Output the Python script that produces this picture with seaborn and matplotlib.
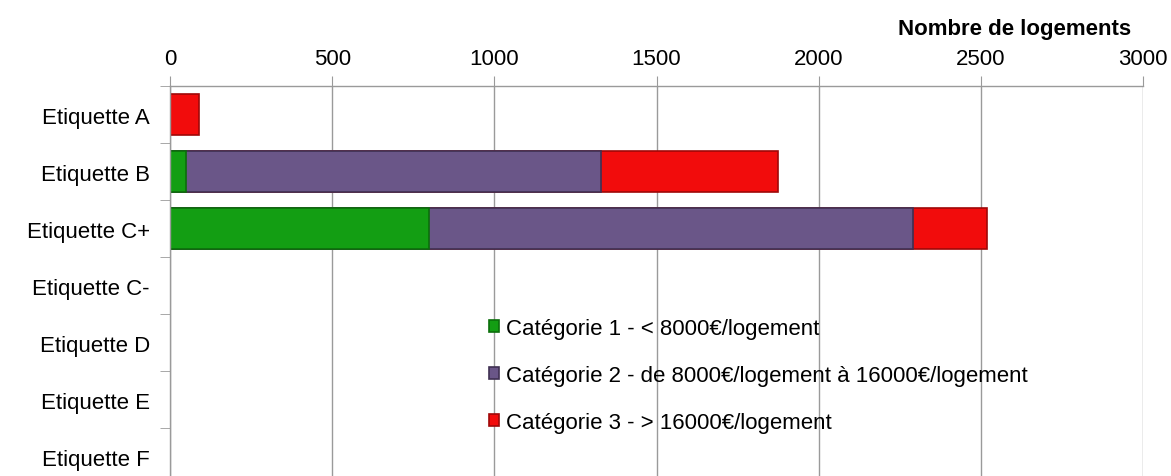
import matplotlib
matplotlib.use("Agg")
import matplotlib.pyplot as plt
import seaborn as sns
import numpy as np
import pandas as pd

categories = ["Etiquette A", "Etiquette B", "Etiquette C+", "Etiquette C-",
              "Etiquette D", "Etiquette E", "Etiquette F"]
cat1 = [0, 50, 800, 0, 0, 0, 0]
cat2 = [0, 1280, 1490, 0, 0, 0, 0]
cat3 = [90, 545, 230, 0, 0, 0, 0]
series_labels = ["Catégorie 1 - < 8000€/logement",
                 "Catégorie 2 - de 8000€/logement à 16000€/logement",
                 "Catégorie 3 - > 16000€/logement"]
colors = ["#139E13", "#6A5688", "#F20C0C"]
edges = ["#0B6E0B", "#3F3052", "#A00808"]
xticks = [0, 500, 1000, 1500, 2000, 2500, 3000]

sns.set_style("white")
plt.rcParams["font.family"] = ["Liberation Sans", "DejaVu Sans"]
plt.rcParams["text.color"] = "black"
plt.rcParams["xtick.labelcolor"] = "black"
plt.rcParams["ytick.labelcolor"] = "black"

df = pd.DataFrame({"cat": categories, "c1": cat1, "c2": cat2, "c3": cat3})
df["s1"] = df["c1"]
df["s2"] = df["c1"] + df["c2"]
df["s3"] = df["s2"] + df["c3"]

fig = plt.figure(figsize=(11.71, 4.77), dpi=100)
ax = fig.add_axes([170/1171, -0.0189, 973/1171, 0.8365])

for col, c, e, lab in [("s3", colors[2], edges[2], series_labels[2]),
                       ("s2", colors[1], edges[1], series_labels[1]),
                       ("s1", colors[0], edges[0], series_labels[0])]:
    sns.barplot(data=df, x=col, y="cat", color=c, orient="h", width=0.72,
                ax=ax, label=lab, edgecolor=e, linewidth=1.2, saturation=1)

ax.set_xlim(0, 3000)
ax.set_xticks(xticks)
ax.xaxis.tick_top()
ax.set_xlabel("")
ax.set_ylabel("")
ax.grid(axis="x", color="#9A9A9A", linewidth=1.0)
ax.set_axisbelow(True)
for s in ["right", "bottom"]:
    ax.spines[s].set_visible(False)
for s in ["top", "left"]:
    ax.spines[s].set_color("#9A9A9A")
    ax.spines[s].set_linewidth(1.0)
ax.tick_params(axis="x", which="major", top=True, length=7, color="#9A9A9A",
               labelsize=16, pad=5, direction="out", labelcolor="black")
ax.tick_params(axis="y", which="major", length=0, labelsize=16, pad=14.5,
               labelcolor="black")
ax.set_yticks(np.arange(-0.5, len(categories), 1.0), minor=True)
ax.tick_params(axis="y", which="minor", left=True, length=7, color="#9A9A9A", direction="out")

handles, labels = ax.get_legend_handles_labels()
order = [labels.index(l) for l in series_labels]
leg = ax.legend([handles[i] for i in order], series_labels,
                loc="upper left", bbox_to_anchor=(480/1171, 1 - 310/477),
                bbox_transform=fig.transFigure, frameon=False, fontsize=16,
                handlelength=0.45, handleheight=0.45, handletextpad=0.3,
                labelspacing=1.17, borderaxespad=0)
for t in leg.get_texts():
    t.set_color("black")

fig.text(1015/1171, 1 - 29/477, "Nombre de logements", ha="center", va="center",
         fontsize=16, fontweight="bold", color="black")

fig.savefig("out.png", dpi=100)
